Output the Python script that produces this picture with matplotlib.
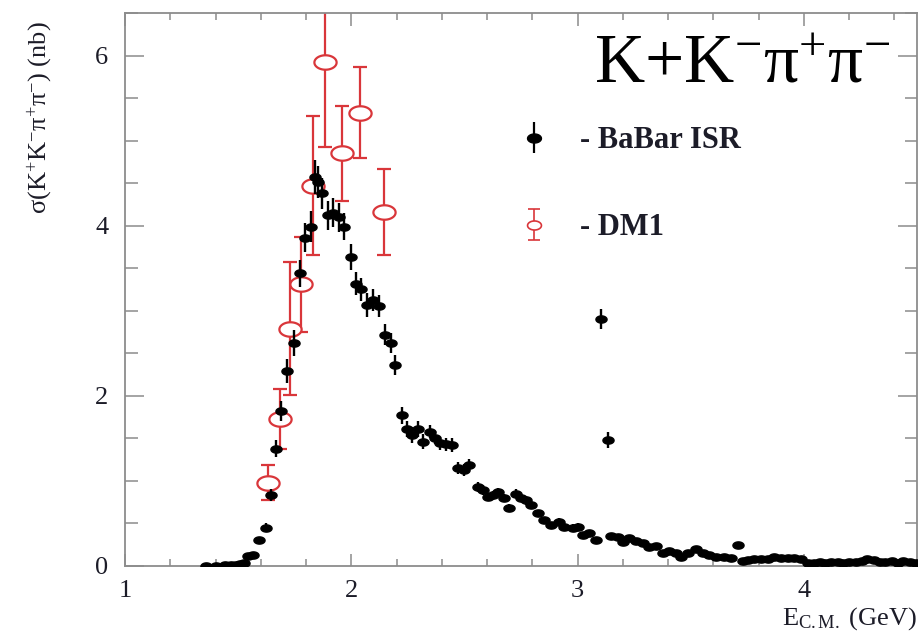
import numpy as np
import matplotlib
matplotlib.use("Agg")
import matplotlib.pyplot as plt
from matplotlib.path import Path
from matplotlib.ticker import MultipleLocator

plt.rcParams['font.family'] = ['Liberation Serif', 'DejaVu Serif']
plt.rcParams['mathtext.fontset'] = 'custom'
plt.rcParams['mathtext.rm'] = 'Liberation Serif'
plt.rcParams['mathtext.it'] = 'Liberation Serif:italic'
plt.rcParams['mathtext.bf'] = 'Liberation Serif:bold'

# BaBar ISR measurement: E_cm (GeV), cross section (nb), stat. error (nb)
babar_e = [
    1.36, 1.40, 1.44, 1.47, 1.49, 1.51, 1.525, 1.545, 1.567, 1.593,
    1.624, 1.646, 1.668, 1.690, 1.717, 1.748, 1.774, 1.796, 1.823, 1.840,
    1.855, 1.872, 1.898, 1.920, 1.947, 1.969, 2.000, 2.022, 2.044, 2.071,
    2.097, 2.124, 2.150, 2.177, 2.195, 2.226, 2.248, 2.270, 2.296, 2.319,
    2.350, 2.372, 2.394, 2.420, 2.447, 2.473, 2.496, 2.522, 2.558, 2.580,
    2.606, 2.628, 2.650, 2.677, 2.699, 2.726, 2.748, 2.770, 2.792, 2.823,
    2.850, 2.881, 2.916, 2.938, 2.978, 3.004, 3.022, 3.049, 3.080, 3.102,
    3.133, 3.146, 3.177, 3.199, 3.226, 3.257, 3.288, 3.314, 3.345, 3.376,
    3.403, 3.434, 3.456, 3.487, 3.522, 3.553, 3.580, 3.611, 3.646, 3.677,
    3.708, 3.730, 3.752, 3.779, 3.810, 3.841, 3.867, 3.898, 3.929, 3.956,
    3.987, 4.018, 4.044, 4.070, 4.095, 4.120, 4.150, 4.175, 4.200, 4.230,
    4.255, 4.280, 4.310, 4.335, 4.360, 4.390, 4.415, 4.440, 4.470, 4.495,
]
babar_sigma = [
    0.00, 0.005, 0.01, 0.01, 0.015, 0.02, 0.04, 0.12, 0.13, 0.30,
    0.45, 0.83, 1.38, 1.82, 2.29, 2.62, 3.44, 3.86, 3.99, 4.57,
    4.51, 4.38, 4.12, 4.15, 4.10, 3.99, 3.63, 3.32, 3.25, 3.07,
    3.13, 3.06, 2.72, 2.62, 2.36, 1.77, 1.61, 1.54, 1.61, 1.46,
    1.58, 1.51, 1.44, 1.43, 1.42, 1.15, 1.13, 1.19, 0.93, 0.89,
    0.81, 0.83, 0.87, 0.80, 0.68, 0.85, 0.80, 0.77, 0.72, 0.62,
    0.54, 0.48, 0.52, 0.46, 0.45, 0.46, 0.36, 0.39, 0.31, 2.90,
    1.48, 0.35, 0.34, 0.28, 0.33, 0.29, 0.27, 0.22, 0.23, 0.15,
    0.18, 0.15, 0.11, 0.15, 0.20, 0.15, 0.13, 0.11, 0.11, 0.09,
    0.25, 0.06, 0.07, 0.08, 0.08, 0.08, 0.11, 0.09, 0.09, 0.09,
    0.08, 0.04, 0.04, 0.05, 0.04, 0.05, 0.05, 0.04, 0.05, 0.05,
    0.06, 0.08, 0.07, 0.05, 0.05, 0.06, 0.04, 0.06, 0.05, 0.03,
]
babar_err = [
    0.01, 0.01, 0.01, 0.01, 0.01, 0.01, 0.02, 0.03, 0.03, 0.04,
    0.05, 0.07, 0.10, 0.12, 0.14, 0.15, 0.16, 0.17, 0.18, 0.20,
    0.19, 0.18, 0.17, 0.17, 0.17, 0.16, 0.15, 0.14, 0.14, 0.14,
    0.13, 0.13, 0.12, 0.12, 0.12, 0.10, 0.09, 0.09, 0.09, 0.09,
    0.08, 0.08, 0.08, 0.08, 0.08, 0.07, 0.07, 0.07, 0.06, 0.06,
    0.05, 0.05, 0.05, 0.05, 0.05, 0.05, 0.05, 0.05, 0.04, 0.04,
    0.04, 0.04, 0.04, 0.04, 0.04, 0.04, 0.03, 0.03, 0.03, 0.12,
    0.09, 0.03, 0.03, 0.03, 0.03, 0.03, 0.03, 0.03, 0.03, 0.02,
    0.02, 0.02, 0.02, 0.02, 0.02, 0.02, 0.02, 0.02, 0.02, 0.02,
    0.03, 0.02, 0.02, 0.02, 0.02, 0.02, 0.02, 0.02, 0.02, 0.02,
    0.02, 0.02, 0.02, 0.02, 0.02, 0.02, 0.02, 0.02, 0.02, 0.02,
    0.02, 0.02, 0.02, 0.02, 0.02, 0.02, 0.02, 0.02, 0.02, 0.02,
]

# DM1 points
dm1_e = [1.633, 1.686, 1.73, 1.78, 1.83, 1.885, 1.96, 2.04, 2.146]
dm1_sigma = [0.98, 1.73, 2.79, 3.31, 4.47, 5.92, 4.85, 5.33, 4.16]
dm1_err = [0.21, 0.35, 0.78, 0.56, 0.82, 1.00, 0.56, 0.54, 0.51]

red = '#d9363a'
grey = '#8c8c8c'
ink = '#1c1c28'

# flattened ellipse used as marker shape
t = np.linspace(0, 2 * np.pi, 64)
ellipse = Path(np.column_stack([np.cos(t), 0.65 * np.sin(t)]), closed=True)

fig = plt.figure(figsize=(9.21, 6.35), dpi=100)
ax = fig.add_axes([0.1357, 0.1087, 0.86, 0.8708])

ax.errorbar(dm1_e, dm1_sigma, yerr=dm1_err, fmt='none', ecolor=red,
            elinewidth=1.6, capsize=5, capthick=1.6, zorder=2)
ax.plot(dm1_e, dm1_sigma, linestyle='none', marker=ellipse, markersize=16,
        markerfacecolor='white', markeredgecolor=red, markeredgewidth=1.6,
        zorder=3)

ax.errorbar(babar_e, babar_sigma, yerr=babar_err, fmt='none', ecolor='black',
            elinewidth=1.7, capsize=0, zorder=4)
ax.plot(babar_e, babar_sigma, linestyle='none', marker=ellipse, markersize=8,
        color='black', zorder=5)

# legend proxies
h1 = ax.errorbar([np.nan], [np.nan], yerr=[1], fmt='none', ecolor='black',
                 elinewidth=1.6)
m1, = ax.plot([np.nan], [np.nan], linestyle='none', marker=ellipse,
              markersize=10, color='black')
h2 = ax.errorbar([np.nan], [np.nan], yerr=[1], fmt='none', ecolor=red,
                 elinewidth=1.2, capsize=4, capthick=1.2)
m2, = ax.plot([np.nan], [np.nan], linestyle='none', marker=ellipse,
              markersize=10, markerfacecolor='white', markeredgecolor=red,
              markeredgewidth=1.2)
leg = ax.legend([(h1, m1), (h2, m2)], ['- BaBar ISR', '- DM1'],
                loc='upper left', bbox_to_anchor=(0.462, 0.845), frameon=False,
                labelspacing=1.9, handlelength=1.0, handletextpad=1.0,
                prop={'size': 22, 'weight': 'bold'})
for txt in leg.get_texts():
    txt.set_color(ink)

ax.text(0.966, 0.875, r'K+K$^{-}$π$^{+}$π$^{-}$', transform=ax.transAxes,
        ha='right', va='baseline', fontsize=50, color='black')

ax.set_xlim(1, 4.5)
ax.set_ylim(0, 6.5)
ax.xaxis.set_major_locator(MultipleLocator(1))
ax.xaxis.set_minor_locator(MultipleLocator(0.2))
ax.yaxis.set_major_locator(MultipleLocator(2))
ax.yaxis.set_minor_locator(MultipleLocator(0.5))

for s in ax.spines.values():
    s.set_color(grey)
    s.set_linewidth(1.3)
ax.tick_params(which='both', direction='in', top=True, right=True,
               color=grey, width=1.1, labelcolor=ink, labelsize=19)
ax.tick_params(axis='x', which='major', length=9, pad=10)
ax.tick_params(axis='x', which='minor', length=5)
ax.tick_params(axis='y', which='major', length=14, pad=12)
ax.tick_params(axis='y', which='minor', length=9)

ax.set_ylabel(r'σ(K$^{+}$K$^{-}$π$^{+}$π$^{-}$) (nb)', fontsize=19,
              color=ink)
ax.yaxis.set_label_coords(-0.09, 0.81)
ax.set_xlabel(r'E$_{\mathrm{C.M.}}$ (GeV)', fontsize=19, color=ink)
ax.xaxis.set_label_coords(1.0, -0.071)
ax.xaxis.label.set_horizontalalignment('right')

fig.savefig('out.png', dpi=100)
